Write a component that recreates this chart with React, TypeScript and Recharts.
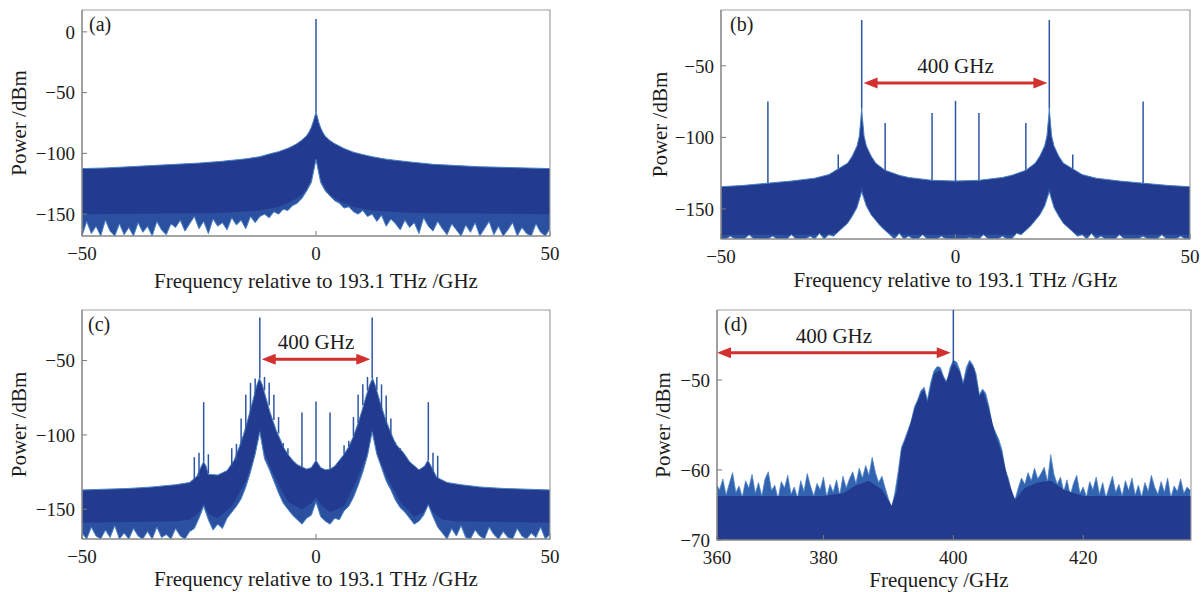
import React from 'react';
import { ComposedChart, Area, XAxis, YAxis, ReferenceLine, ReferenceArea } from 'recharts';

const FONT = 'Liberation Serif, DejaVu Serif, serif';
const CORE = '#233b8e';
const BAND = '#2b50a0';
const EDGE = '#4a82c6';
const TIPS = '#3263b0';
const SPIKE = '#2c56a3';
const RED = '#d22f2f';
const AXIS = '#7a7a7a';
const FRAME = '#a0a0a0';
const INK = '#1c1c1c';

type Pair = [number, number];
type Spike = [number, number, number];

// ---------------- panel (a) ----------------
const aXTicks = [-50, 0, 50];
const aYTicks = [0, -50, -100, -150];
const aUpper: Pair[] = [
  [-50, -112.5], [-45, -112], [-40, -111], [-35, -110], [-30, -109], [-25, -108], [-20, -106.5],
  [-15, -104.5], [-12, -102.7], [-10, -100.5], [-8, -98.6], [-6, -95.8], [-5, -94], [-4, -91.8],
  [-3, -89], [-2, -85.5], [-1.5, -82.5], [-1, -78.5], [-0.6, -74], [-0.3, -70], [0, -66],
  [0.3, -70], [0.6, -74.5], [1, -79], [1.5, -83], [2, -86], [3, -89.5], [4, -92], [5, -94],
  [6, -96], [8, -99], [10, -101], [12, -102.7], [15, -104.8], [20, -107], [25, -109], [30, -110],
  [35, -111], [40, -111.5], [45, -112], [50, -112.5],
];
const aBand: Pair[] = [
  [-50, -150], [-20, -149], [-12, -147], [-8, -144], [-5, -139], [-3, -134], [-2, -129], [-1, -121],
  [0, -107], [1, -121], [2, -129], [3, -134], [5, -139], [8, -144], [12, -147], [20, -149], [50, -150],
];
const aLowerStart = -50;
const aLower = [
  -168, -156, -166, -160, -168, -155, -164, -168, -158, -167, -161, -168, -157, -165, -160, -168, -156, -163, -167, -158,
  -161, -155, -164, -158, -152, -162, -156, -166, -154, -160, -157, -163, -153, -159, -155, -162, -152, -157,
  -152, -150, -153, -148, -150, -146, -147, -143, -141, -137, -131, -124,
  -105,
  -124, -131, -135, -139, -141, -145, -144, -148, -150, -147, -152, -150,
  -156, -151, -160, -154, -158, -163, -155, -161, -157, -166, -153, -160, -164, -156, -162, -167, -158, -163,
  -168, -159, -165, -157, -168, -162, -156, -167, -160, -168, -163, -157, -168, -161, -166, -168, -158, -165, -168, -162,
];
const aSpikes: Spike[] = [[0, -66, 10.5]];

// ---------------- panel (b) ----------------
const bXTicks = [-50, 0, 50];
const bYTicks = [-50, -100, -150];
const bUpper: Pair[] = [
  [-50, -134.5], [-45, -133.5], [-40, -132], [-35, -130.5], [-30, -128.5], [-27, -126], [-25, -122],
  [-23, -118], [-22, -113], [-21, -106], [-20.5, -99], [-20.2, -88], [-20, -80], [-19.8, -88],
  [-19.5, -99], [-19, -106], [-18, -113], [-17, -118], [-15, -123], [-12, -126.5], [-10, -128],
  [-5, -130], [0, -130.5], [5, -130], [10, -128], [12, -126.5], [15, -123], [17, -118], [18, -113],
  [19, -106], [19.5, -99], [19.8, -88], [20, -80], [20.2, -88], [20.5, -99], [21, -106], [22, -113],
  [23, -118], [25, -122], [27, -126], [30, -128.5], [35, -130.5], [40, -132], [45, -133.5], [50, -134.5],
];
const bBand: Pair[] = [
  [-50, -168], [-27, -168], [-24, -165], [-22, -160], [-21, -152], [-20, -134], [-19, -152], [-18, -158],
  [-16, -164], [-13, -168], [13, -168], [16, -164], [18, -158], [19, -152], [20, -134], [21, -152],
  [22, -160], [24, -165], [27, -168], [50, -168],
];
const bLowerStart = -50;
const bLower = [
  -171, -171, -169, -171, -171, -171, -168, -171, -171, -171, -171, -169, -171, -171, -171, -168, -171, -171, -171, -169,
  -171, -167, -171, -168,
  -169, -166, -163, -160, -155, -149, -138, -148, -154, -158, -162, -165, -168,
  -171, -167, -171, -169, -171, -171, -168, -171, -171, -171, -169, -171, -171, -171, -171, -171, -170, -171, -171, -168, -171, -171, -171, -169, -171, -171, -167,
  -168, -165, -162, -158, -154, -148, -138, -149, -155, -160, -163, -166, -169,
  -168, -171, -167, -171,
  -169, -171, -171, -171, -168, -171, -171, -171, -171, -169, -171, -171, -171, -168, -171, -171, -171, -169, -171, -171,
];
const bSpikes: Spike[] = [
  [-40, -132, -75], [-25, -122, -112], [-20, -80, -18], [-15, -123, -90], [-5, -130, -83], [0, -130.5, -74.5],
  [5, -130, -83], [15, -123, -90], [20, -80, -18], [25, -122, -112], [40, -132, -75],
];
const bArrow = { x1: -19.6, x2: 19.6, y: -62, label: '400 GHz' };

// ---------------- panel (c) ----------------
const cXTicks = [-50, 0, 50];
const cYTicks = [-50, -100, -150];
const cUpper: Pair[] = [
  [-50, -137], [-45, -136.5], [-40, -136], [-35, -135], [-30, -133.5], [-27, -132], [-25.5, -128],
  [-24.5, -121], [-24, -118], [-23.5, -121], [-23, -126.5], [-21, -127], [-19, -124], [-17.5, -117],
  [-16.5, -109], [-15.5, -100], [-14.5, -89], [-13.5, -77], [-12.7, -67], [-12.1, -62], [-11.5, -66],
  [-10.7, -75], [-9.8, -85], [-8.5, -97], [-7.5, -104], [-7, -108], [-6, -113], [-5, -117], [-4, -120],
  [-3, -121.5], [-2, -123], [-1, -122], [-0.4, -119], [0, -117], [0.4, -119], [1, -122], [2, -123.5],
  [3, -123], [4, -121], [5, -117], [6, -113], [7, -108], [8, -101], [9, -92], [9.8, -84], [10.7, -74],
  [11.5, -66], [12.1, -62], [12.7, -67], [13.7, -78], [14.7, -88], [15.8, -97], [17, -106], [18.7, -112],
  [20, -118], [22, -123.5], [23.2, -121], [23.9, -117], [24.6, -121], [25.8, -128.5], [28, -132],
  [31, -133.5], [35, -135], [40, -136], [45, -136.5], [50, -137],
];
const cBand: Pair[] = [
  [-50, -159], [-30, -158], [-27, -157], [-25, -152], [-24, -146], [-23, -153], [-21, -156], [-18, -148],
  [-15, -131], [-13, -112], [-12, -96], [-11, -112], [-9, -127], [-6, -145], [-3, -150], [-1, -146],
  [0, -142], [1, -147], [3, -152], [6, -148], [9, -128], [11, -112], [12, -96], [13, -112], [15, -127],
  [18, -145], [21, -155], [23, -152], [24, -146], [25, -152], [27, -157], [30, -158], [50, -159],
];
const cLowerStart = -50;
const cLower = [
  -166, -170, -162, -168, -170, -164, -169, -161, -170, -166, -170, -163, -168, -170, -165, -170, -162, -169, -167, -170, -163, -168, -170, -165,
  -163, -156, -148, -157, -164, -160, -163, -156, -152, -148, -143, -135, -125, -113, -98, -116, -123, -131, -139, -146, -150, -154, -157, -160, -156, -154,
  -145,
  -155, -158, -160, -156, -157, -151, -148, -142, -134, -125, -114, -98, -113, -122, -131, -137, -144, -149, -152, -156, -160, -158, -154, -147, -155, -162,
  -166, -170, -163, -168, -161, -169, -170, -164, -168, -170, -162, -167, -170, -165, -169, -170, -163, -168, -170, -166, -169, -162, -170, -167,
];
const cSpikes: Spike[] = [
  [-26, -130, -115], [-25, -128, -112], [-24, -118, -78], [-23, -126, -113], [-18, -121, -109], [-17, -117, -106],
  [-16, -107, -89], [-15, -97, -73], [-14, -85, -65], [-13, -72, -62], [-12, -62, -21], [-11, -70, -61],
  [-10, -80, -65], [-9, -90, -73], [-8, -99, -88], [-7, -108, -105.5], [-6, -113, -109], [-3, -121.5, -85],
  [0, -117, -77.6], [3, -123, -85], [6, -113, -107], [7, -108, -104], [8, -101, -88], [9, -92, -73],
  [10, -80, -66], [11, -70, -61], [12, -62, -21], [13, -70, -61], [14, -83, -66], [15, -93, -73.5],
  [16, -99, -89], [17, -106, -105], [18, -111, -109], [24, -117, -78], [25, -125, -112], [26, -129, -114],
];
const cArrow = { x1: -11.6, x2: 11.6, y: -49.2, label: '400 GHz' };

// ---------------- panel (d) ----------------
const dXTicks = [363.6, 380, 400, 420];
const dXTickLabels = ['360', '380', '400', '420'];
const dYTicks = [-67.8, -60, -50];
const dYTickLabels = ['\u221270', '\u221260', '\u221250'];
const dTipsStart = 363.5;
const dTips = [
  -61.6,
  -62.2, -61, -62.8, -61.5, -60.3, -62.5, -61.8, -63, -61.2, -62,
  -60.5, -62.6, -61.4, -62.9, -61, -60.2, -62.3, -61.7, -63.2, -61.3,
  -62, -60.6, -62.7, -61.9, -63.1, -61.2, -62.4, -60.4, -61.8, -62.9,
  -61.5, -62.2, -60.8, -63, -61.6, -62.5, -61.1, -62.8, -60.7, -62,
  -61, -60.2, -61.5, -59.8, -60.9, -59.5, -60.6, -58.6, -60.3, -61.4, -60.7, -62,
  -63.2, -64.2, -62.5, -60.2,
  -57.5, -56.6, -55.6, -54.6, -53, -52.2, -51.2, -50.8, -52.2, -50.3, -49, -48.5, -48.6, -49.6, -50.2, -48.6,
  -47.8, -48, -48.9, -50.3, -48.6, -47.8, -48.3, -49.3, -51.6, -51, -51.5, -53, -55, -55.8, -56.6, -57.8,
  -60, -61, -62.6, -63.3,
  -62, -60.9, -61.6, -60.3, -61.2, -59.8, -61, -60.4, -59.7, -61.3, -58.3, -60.5, -61.6, -60.8,
  -62.4, -61.1, -62.8, -61.5, -60.6, -62.6, -61.9, -63, -61.3, -62.2,
  -60.8, -62.7, -61.4, -63.1, -61.9, -60.7, -62.5, -61.6, -62.9, -61.2,
  -62.3, -60.9, -62.8, -61.7, -63, -61.4, -62.4, -60.6, -61.9, -62.7,
  -61.3, -62.5, -60.9, -63.1, -61.8, -62.4, -61, -62.6, -61.9, -62.3,
];
const dCore: Pair[] = [
  [363.5, -62.9], [372, -62.9], [380, -62.9], [383, -62.6], [385, -61.7], [387, -61.2], [389, -62.2],
  [390.5, -64], [391.3, -62.3], [392, -57.8], [393, -55.8], [394, -53.3], [395, -51.5], [395.5, -51.1],
  [396, -52.5], [397, -49.3], [398, -48.9], [398.8, -50.3], [400, -48.1], [401, -49.1], [401.5, -50.5],
  [402.5, -48.1], [403.2, -48.7], [404, -51.8], [404.6, -51.3], [405.5, -53.3], [406.5, -56.1],
  [407.5, -58.2], [408.5, -61.3], [409.5, -63.3], [411, -62], [413, -61.4], [415, -61.2], [417, -62.2],
  [420, -62.9], [436.6, -62.9],
];
const dSpikes: Spike[] = [[400, -48.2, -42.2]];
const dArrow = { x1: 363.6, x2: 399.6, y: -46.95, label: '400 GHz' };

// ---------------- helpers ----------------
type Pt = { x: number; v: number };
const pairsToPts = (p: Pair[]): Pt[] => p.map(([x, v]) => ({ x, v }));
const gridToPts = (start: number, step: number, vals: number[]): Pt[] =>
  vals.map((v, i) => ({ x: start + i * step, v }));
const minusFmt = (v: number) => String(v).replace('-', '\u2212');

const ArrowShape = (p: any) => {
  const { x1, y1, x2, y2 } = p;
  const h = 14;
  const w = 5.5;
  return (
    <g>
      <line x1={x1 + h - 2} y1={y1} x2={x2 - h + 2} y2={y2} stroke={RED} strokeWidth={3} />
      <polygon points={`${x1},${y1} ${x1 + h},${y1 - w} ${x1 + h},${y1 + w}`} fill={RED} />
      <polygon points={`${x2},${y2} ${x2 - h},${y2 - w} ${x2 - h},${y2 + w}`} fill={RED} />
    </g>
  );
};

type PanelSpec = {
  left: number;
  top: number;
  width: number;
  height: number;
  margin: { top: number; right: number; bottom: number; left: number };
  yWidth: number;
  xHeight: number;
  xDomain: [number, number];
  yDomain: [number, number];
  xTicks: number[];
  yTicks: number[];
  xFmt: (v: number) => string;
  yFmt: (v: number) => string;
  upper: Pt[];
  band?: Pt[];
  lower?: Pt[];
  tips?: Pt[];
  spikes: Spike[];
  arrow?: { x1: number; x2: number; y: number; label: string };
  xTitle: string;
  xTitleOffset: number;
  xTitleDx?: number;
  yTitleOffset: number;
};

function Panel(s: PanelSpec) {
  const base = s.yDomain[0];
  const tickStyle = { fill: INK, fontSize: 19, fontFamily: FONT };
  return (
    <div style={{ position: 'absolute', left: s.left, top: s.top, width: s.width, height: s.height }}>
      <ComposedChart width={s.width} height={s.height} margin={s.margin} style={{ fontFamily: FONT }}>
        <XAxis
          type="number"
          dataKey="x"
          domain={s.xDomain}
          ticks={s.xTicks}
          interval={0}
          allowDataOverflow
          tickFormatter={s.xFmt}
          tickSize={-5}
          tickMargin={16}
          height={s.xHeight}
          axisLine={{ stroke: AXIS }}
          tickLine={{ stroke: AXIS }}
          tick={tickStyle}
          label={{
            value: s.xTitle,
            position: 'insideBottom',
            offset: s.xTitleOffset,
            dx: s.xTitleDx || 0,
            fill: INK,
            fontSize: 21,
            fontFamily: FONT,
          }}
        />
        <YAxis
          type="number"
          domain={s.yDomain}
          ticks={s.yTicks}
          interval={0}
          allowDataOverflow
          tickFormatter={s.yFmt}
          tickSize={-5}
          tickMargin={12}
          width={s.yWidth}
          axisLine={{ stroke: AXIS }}
          tickLine={{ stroke: AXIS }}
          tick={tickStyle}
          label={{
            value: 'Power /dBm',
            angle: -90,
            position: 'insideLeft',
            offset: s.yTitleOffset,
            fill: INK,
            fontSize: 21,
            fontFamily: FONT,
            style: { textAnchor: 'middle' },
          }}
        />
        {s.tips && (
          <Area
            data={s.tips}
            dataKey="v"
            type="linear"
            baseValue={base}
            fill={TIPS}
            fillOpacity={1}
            stroke={EDGE}
            strokeWidth={0.7}
            dot={false}
            activeDot={false}
            isAnimationActive={false}
          />
        )}
        <Area
          data={s.upper}
          dataKey="v"
          type="linear"
          baseValue={base}
          fill={CORE}
          fillOpacity={1}
          stroke={s.tips ? 'none' : EDGE}
          strokeWidth={1}
          dot={false}
          activeDot={false}
          isAnimationActive={false}
        />
        {s.band && (
          <Area
            data={s.band}
            dataKey="v"
            type="linear"
            baseValue={base}
            fill={BAND}
            fillOpacity={1}
            stroke="none"
            dot={false}
            activeDot={false}
            isAnimationActive={false}
          />
        )}
        {s.lower && (
          <Area
            data={s.lower}
            dataKey="v"
            type="linear"
            baseValue={base}
            fill="#ffffff"
            fillOpacity={1}
            stroke={EDGE}
            strokeWidth={1}
            dot={false}
            activeDot={false}
            isAnimationActive={false}
          />
        )}
        <ReferenceArea
          x1={s.xDomain[0]}
          x2={s.xDomain[1]}
          y1={s.yDomain[0]}
          y2={s.yDomain[1]}
          fill="none"
          fillOpacity={0}
          stroke={FRAME}
          strokeWidth={1.2}
          ifOverflow="visible"
        />
        {s.spikes.map(([x, from, to], i) => (
          <ReferenceLine
            key={`sp${i}`}
            segment={[
              { x, y: from },
              { x, y: to },
            ]}
            stroke={SPIKE}
            strokeWidth={1.5}
            ifOverflow="visible"
          />
        ))}
        {s.arrow && (
          <ReferenceLine
            segment={[
              { x: s.arrow.x1, y: s.arrow.y },
              { x: s.arrow.x2, y: s.arrow.y },
            ]}
            ifOverflow="visible"
            shape={ArrowShape}
            label={{
              value: s.arrow.label,
              position: 'top',
              offset: 10,
              fill: INK,
              fontSize: 21,
              fontFamily: FONT,
            }}
          />
        )}
      </ComposedChart>
    </div>
  );
}

const panelLetters = [
  { t: '(a)', x: 89, y: 31 },
  { t: '(b)', x: 730, y: 31 },
  { t: '(c)', x: 88, y: 331 },
  { t: '(d)', x: 724, y: 331 },
];

export default function App() {
  return (
    <div
      style={{
        position: 'absolute',
        left: 0,
        top: 0,
        width: 1204,
        height: 592,
        background: '#fff',
        overflow: 'hidden',
        fontFamily: FONT,
      }}
    >
      <Panel
        left={0}
        top={0}
        width={600}
        height={296}
        margin={{ top: 10, right: 50, bottom: 0, left: 0 }}
        yWidth={82}
        xHeight={60}
        xDomain={[-50, 50]}
        yDomain={[-168, 18]}
        xTicks={aXTicks}
        yTicks={aYTicks}
        xFmt={minusFmt}
        yFmt={minusFmt}
        upper={pairsToPts(aUpper)}
        band={pairsToPts(aBand)}
        lower={gridToPts(aLowerStart, 1, aLower)}
        spikes={aSpikes}
        xTitle="Frequency relative to 193.1 THz /GHz"
        xTitleOffset={8}
        yTitleOffset={19}
      />
      <Panel
        left={600}
        top={0}
        width={604}
        height={296}
        margin={{ top: 10, right: 14, bottom: 0, left: 0 }}
        yWidth={121}
        xHeight={57}
        xDomain={[-50, 50]}
        yDomain={[-171, -11]}
        xTicks={bXTicks}
        yTicks={bYTicks}
        xFmt={minusFmt}
        yFmt={minusFmt}
        upper={pairsToPts(bUpper)}
        band={pairsToPts(bBand)}
        lower={gridToPts(bLowerStart, 1, bLower)}
        spikes={bSpikes}
        arrow={bArrow}
        xTitle="Frequency relative to 193.1 THz /GHz"
        xTitleOffset={9}
        yTitleOffset={60}
      />
      <Panel
        left={0}
        top={300}
        width={600}
        height={292}
        margin={{ top: 10, right: 50, bottom: 0, left: 0 }}
        yWidth={82}
        xHeight={53}
        xDomain={[-50, 50]}
        yDomain={[-170, -16]}
        xTicks={cXTicks}
        yTicks={cYTicks}
        xFmt={minusFmt}
        yFmt={minusFmt}
        upper={pairsToPts(cUpper)}
        band={pairsToPts(cBand)}
        lower={gridToPts(cLowerStart, 1, cLower)}
        spikes={cSpikes}
        arrow={cArrow}
        xTitle="Frequency relative to 193.1 THz /GHz"
        xTitleOffset={6}
        yTitleOffset={19}
      />
      <Panel
        left={600}
        top={300}
        width={604}
        height={292}
        margin={{ top: 10, right: 13, bottom: 0, left: 0 }}
        yWidth={117}
        xHeight={52}
        xDomain={[363.6, 436.6]}
        yDomain={[-67.8, -42.2]}
        xTicks={dXTicks}
        yTicks={dYTicks}
        xFmt={(v: number) => dXTickLabels[dXTicks.indexOf(v)] ?? String(v)}
        yFmt={(v: number) => dYTickLabels[dYTicks.indexOf(v)] ?? minusFmt(v)}
        upper={pairsToPts(dCore)}
        tips={gridToPts(dTipsStart, 0.5, dTips)}
        spikes={dSpikes}
        arrow={dArrow}
        xTitle="Frequency /GHz"
        xTitleOffset={5}
        xTitleDx={-15}
        yTitleOffset={63}
      />
      <svg width={1204} height={592} style={{ position: 'absolute', left: 0, top: 0, pointerEvents: 'none' }}>
        {panelLetters.map((p) => (
          <text key={p.t} x={p.x} y={p.y} fontFamily={FONT} fontSize={20} fill={INK}>
            {p.t}
          </text>
        ))}
      </svg>
    </div>
  );
}
